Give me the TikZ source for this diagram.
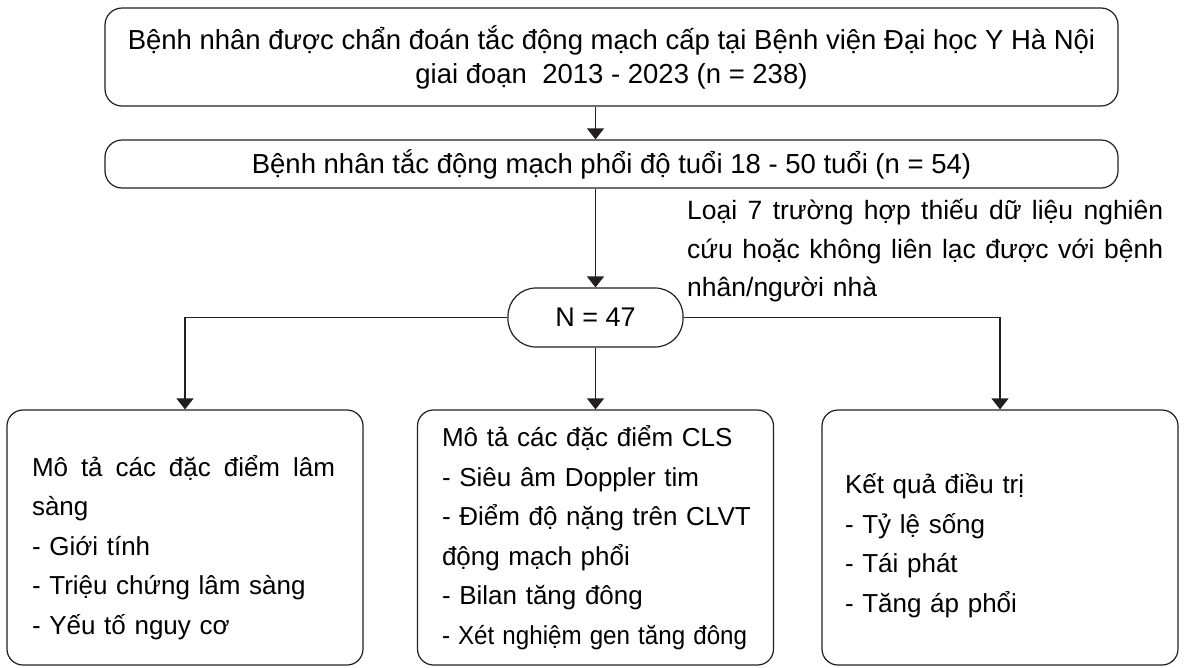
\documentclass[tikz,border=0pt]{standalone}
\usepackage{fontspec}
\setmainfont{Liberation Sans}
\usetikzlibrary{positioning, arrows.meta}
\definecolor{lineclr}{HTML}{231F20}

\begin{document}
\begin{tikzpicture}
    [
        x=1pt, y=-1pt,
        on grid,
        font=\fontsize{26}{39.5}\selectfont,
        widebox/.style={draw=lineclr, rectangle, rounded corners=17pt, minimum width=1013pt, line width=1.2pt, align=center, inner sep=0pt, font=\fontsize{27.5}{34}\selectfont},
        countbox/.style={draw=lineclr, rectangle, rounded corners=28pt, minimum width=175pt, minimum height=59pt, line width=1.2pt, font=\fontsize{27}{32}\selectfont},
        outbox/.style={draw=lineclr, rectangle, rounded corners=16pt, minimum width=356pt, minimum height=255pt, line width=1.2pt, align=left},
        link/.style={-{Triangle[width=17pt, length=11pt]}, draw=lineclr, line width=1.2pt}
    ]
        \useasboundingbox (0,0) rectangle (1186,667);
        % =========================================================================
        % NODES
        % =========================================================================
        % --- Row 1 ---
        \node [widebox, minimum height=98pt] (patients) at (611.5,57)
            {Bệnh nhân được chẩn đoán tắc động mạch cấp tại Bệnh viện Đại học Y Hà Nội\\
             giai đoạn\ \ 2013 - 2023 (n = 238)};
        % --- Row 2 ---
        \node [widebox, minimum height=48pt, below=107pt of patients] (pulmonary)
            {Bệnh nhân tắc động mạch phổi độ tuổi 18 - 50 tuổi (n = 54)};
        % --- Row 3 ---
        \node [countbox] (total) at (595.5,317.5) {N = 47};
        \node [anchor=north west, inner sep=0pt, text width=476pt, align=left,
               font=\fontsize{26.5}{38.5}\selectfont] (excluded) at (687,199)
            {\makebox[476pt][s]{Loại\hfill 7\hfill trường\hfill hợp\hfill thiếu\hfill dữ\hfill liệu\hfill nghiên}\\
             \makebox[476pt][s]{cứu\hfill hoặc\hfill không\hfill liên\hfill lạc\hfill được\hfill với\hfill bệnh}\\
             nhân/người nhà};
        % --- Row 4 ---
        \node [outbox, inner xsep=24pt, text width=307pt, below=220pt of total] (paraclinical)
            {Mô tả các đặc điểm CLS\\
             - Siêu âm Doppler tim\\
             \mbox{- Điểm độ nặng trên CLVT}\\
             động mạch phổi\\
             - Bilan tăng đông\\
             \scalebox{0.93}[1]{- Xét nghiệm gen tăng đông}};
        \node [outbox, inner xsep=25pt, text width=306pt, left=410.5pt of paraclinical] (clinical)
            {\rule{0pt}{41pt}\makebox[303pt][s]{Mô\hfill tả\hfill các\hfill đặc\hfill điểm\hfill lâm}\\
             sàng\\
             - Giới tính\\
             - Triệu chứng lâm sàng\\
             - Yếu tố nguy cơ};
        \node [outbox, inner xsep=23pt, text width=310pt, right=404.5pt of paraclinical] (results)
            {\rule{0pt}{36pt}Kết quả điều trị\\
             - Tỷ lệ sống\\
             - Tái phát\\
             - Tăng áp phổi};

        % =========================================================================
        % PATHS
        % =========================================================================
        % --- VERTICAL ---
        \draw [link] (patients.south -| total) -- (pulmonary.north -| total);
        \draw [link] (pulmonary.south -| total) -- (total.north);
        \draw [link] (total.south) -- (paraclinical.north);
        % --- BRANCHES ---
        \draw [link] (total.west) -| (clinical.north);
        \draw [link] (total.east) -| (results.north);

    \end{tikzpicture}
\end{document}
